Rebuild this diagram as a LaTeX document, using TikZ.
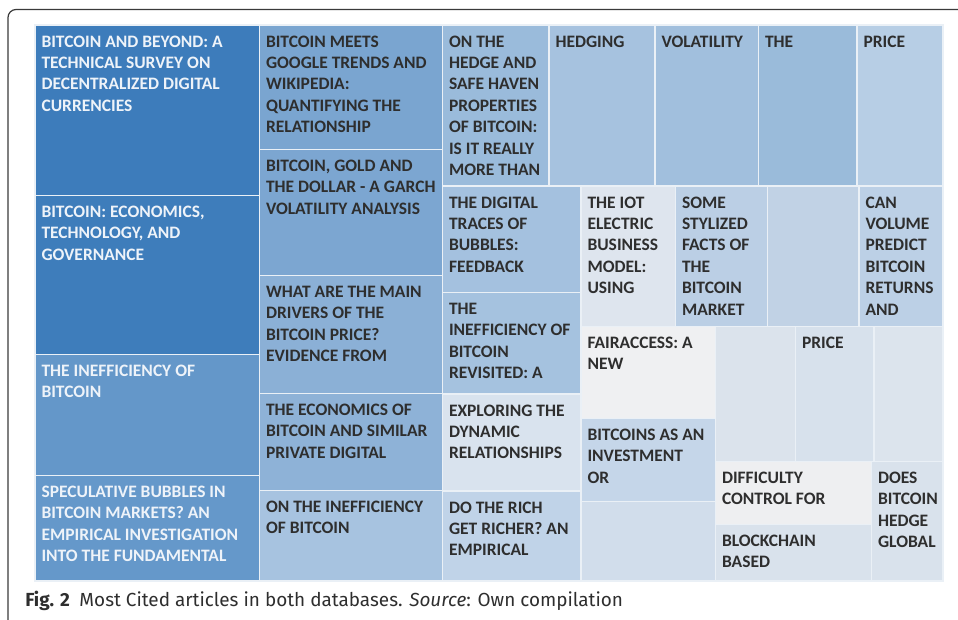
\documentclass[tikz,border=0pt]{standalone}
\usepackage{fontspec}
\usetikzlibrary{fit}
\newfontfamily\cellfont{Carlito}
\newfontfamily\capfont{Fira Sans}
\definecolor{frameline}{HTML}{3A3A3A}
\definecolor{cellline}{HTML}{EAF0F6}
\definecolor{darktxt}{HTML}{2E2E2E}
\definecolor{lighttxt}{HTML}{EEF3F9}
\definecolor{ca1}{HTML}{3D7CBB}
\definecolor{ca2}{HTML}{3E7DBB}
\definecolor{ca3}{HTML}{6497C9}
\definecolor{ca4}{HTML}{6598CA}
\definecolor{cb1}{HTML}{7AA5D0}
\definecolor{cb2}{HTML}{7CA6D1}
\definecolor{cb3}{HTML}{8BB0D6}
\definecolor{cb4}{HTML}{8EB2D7}
\definecolor{cb5}{HTML}{A7C3E0}
\definecolor{cc1}{HTML}{9ABBDB}
\definecolor{cc2}{HTML}{A6C2DF}
\definecolor{cc3}{HTML}{A1BFDD}
\definecolor{cc4}{HTML}{9ABBDA}
\definecolor{cc5}{HTML}{B7CEE5}
\definecolor{cd1}{HTML}{A4C1DF}
\definecolor{cd2}{HTML}{A5C2DF}
\definecolor{cd3}{HTML}{D9E3EE}
\definecolor{cd4}{HTML}{C0D3E8}
\definecolor{ce1}{HTML}{DEE5EE}
\definecolor{ce2}{HTML}{BBCFE5}
\definecolor{ce3}{HTML}{C1D2E5}
\definecolor{ce4}{HTML}{BCD0E6}
\definecolor{cf1}{HTML}{EFF0F2}
\definecolor{cf2}{HTML}{C5D6E9}
\definecolor{cf3}{HTML}{D1DDEB}
\definecolor{cg1}{HTML}{DBE3EC}
\definecolor{cg2}{HTML}{D7E1EC}
\definecolor{cg3}{HTML}{DCE4ED}
\definecolor{ch1}{HTML}{EEEFF1}
\definecolor{ch2}{HTML}{D9E2EC}
\definecolor{ch3}{HTML}{D9E2EC}
\tikzset{
  cellbox/.style={inner sep=0pt, outer sep=0pt, draw=cellline, line width=1pt},
  celltxt/.style={inner sep=0pt, outer sep=0pt, anchor=north west, align=left,
    font=\cellfont\bfseries\fontsize{13.1pt}{16.1pt}\selectfont},
  frame/.style={draw=frameline, line width=0.9pt, rounded corners=6pt},
  captxt/.style={inner sep=0pt, anchor=base west, text=darktxt,
    font=\capfont\fontsize{14.2pt}{17pt}\selectfont}
}
\newcommand\cellat[8]{%
  \node[cellbox, fill=#6, fit={(#2,#3) (#4,#5)}] (#1) {};
  \node[celltxt, text=#7] (#1t) at ([xshift=4.9pt, yshift=-5.25pt]#1.north west) {\rule{0pt}{11.25pt}#8};
}
\begin{document}
\begin{tikzpicture}[x=0.75pt, y=-0.75pt]
\useasboundingbox (0,0) rectangle (958,619);
\clip (0,0) rectangle (958,619);
\draw[frame] (8,9.5) rectangle (990,660);
% column 1
\cellat{a1}{35}{25}{259.5}{195.5}{ca1}{lighttxt}{BITCOIN AND BEYOND: A\\TECHNICAL SURVEY ON\\DECENTRALIZED DIGITAL\\CURRENCIES}
\cellat{a2}{35}{195.5}{259.5}{354.5}{ca2}{lighttxt}{BITCOIN: ECONOMICS,\\TECHNOLOGY, AND\\GOVERNANCE}
\cellat{a3}{35}{354.5}{259.5}{475.5}{ca3}{lighttxt}{THE INEFFICIENCY OF\\BITCOIN}
\cellat{a4}{35}{475.5}{259.5}{581}{ca4}{lighttxt}{SPECULATIVE BUBBLES IN\\BITCOIN MARKETS? AN\\EMPIRICAL INVESTIGATION\\INTO THE FUNDAMENTAL}
% column 2
\cellat{b1}{259.5}{25}{442.5}{149.5}{cb1}{darktxt}{BITCOIN MEETS\\GOOGLE TRENDS AND\\WIKIPEDIA:\\QUANTIFYING THE\\RELATIONSHIP}
\cellat{b2}{259.5}{149.5}{442.5}{275.5}{cb2}{darktxt}{BITCOIN, GOLD AND\\THE DOLLAR - A GARCH\\VOLATILITY ANALYSIS}
\cellat{b3}{259.5}{275.5}{442.5}{393.5}{cb3}{darktxt}{WHAT ARE THE MAIN\\DRIVERS OF THE\\BITCOIN PRICE?\\EVIDENCE FROM}
\cellat{b4}{259.5}{393.5}{442.5}{490.5}{cb4}{darktxt}{THE ECONOMICS OF\\BITCOIN AND SIMILAR\\PRIVATE DIGITAL}
\cellat{b5}{259.5}{490.5}{442.5}{581}{cb5}{darktxt}{ON THE INEFFICIENCY\\OF BITCOIN}
% top row
\cellat{c1}{442.5}{25}{549}{186}{cc1}{darktxt}{ON THE\\HEDGE AND\\SAFE HAVEN\\PROPERTIES\\OF BITCOIN:\\IS IT REALLY\\MORE THAN}
\cellat{c2}{549}{25}{655}{186}{cc2}{darktxt}{HEDGING}
\cellat{c3}{655}{25}{758.5}{186}{cc3}{darktxt}{VOLATILITY}
\cellat{c4}{758.5}{25}{857}{186}{cc4}{darktxt}{THE}
\cellat{c5}{857}{25}{943}{186}{cc5}{darktxt}{PRICE}
% column 3
\cellat{d1}{442.5}{186}{581}{292.5}{cd1}{darktxt}{THE DIGITAL\\TRACES OF\\BUBBLES:\\FEEDBACK}
\cellat{d2}{442.5}{292.5}{581}{394}{cd2}{darktxt}{THE\\INEFFICIENCY OF\\BITCOIN\\REVISITED: A}
\cellat{d3}{442.5}{394}{581}{491}{cd3}{darktxt}{EXPLORING THE\\DYNAMIC\\RELATIONSHIPS}
\cellat{d4}{442.5}{491}{581}{581}{cd4}{darktxt}{DO THE RICH\\GET RICHER? AN\\EMPIRICAL}
% second row right
\cellat{e1}{581}{186}{675.5}{326.5}{ce1}{darktxt}{THE IOT\\ELECTRIC\\BUSINESS\\MODEL:\\USING}
\cellat{e2}{675.5}{186}{767.5}{326.5}{ce2}{darktxt}{SOME\\STYLIZED\\FACTS OF\\THE\\BITCOIN\\MARKET}
\cellat{e3}{767.5}{186}{859}{326.5}{ce3}{darktxt}{}
\cellat{e4}{859}{186}{943}{326.5}{ce4}{darktxt}{CAN\\VOLUME\\PREDICT\\BITCOIN\\RETURNS\\AND}
% column 4
\cellat{f1}{581}{326.5}{715.5}{418.5}{cf1}{darktxt}{FAIRACCESS: A\\NEW}
\cellat{f2}{581}{418.5}{715.5}{501.5}{cf2}{darktxt}{BITCOINS AS AN\\INVESTMENT\\OR}
\cellat{f3}{581}{501.5}{715.5}{581}{cf3}{darktxt}{}
% right block
\cellat{g1}{715.5}{326.5}{795.5}{461.5}{cg1}{darktxt}{}
\cellat{g2}{795.5}{326.5}{874}{461.5}{cg2}{darktxt}{PRICE}
\cellat{g3}{874}{326.5}{943}{461.5}{cg3}{darktxt}{}
\cellat{h1}{715.5}{461.5}{871.5}{524.5}{ch1}{darktxt}{DIFFICULTY\\CONTROL FOR}
\cellat{h2}{715.5}{524.5}{871.5}{581}{ch2}{darktxt}{BLOCKCHAIN\\BASED}
\cellat{h3}{871.5}{461.5}{943}{581}{ch3}{darktxt}{DOES\\BITCOIN\\HEDGE\\GLOBAL}
% caption
\node[captxt] (cap) at (25,606) {\textbf{Fig. 2}\hspace{0.5em}Most Cited articles in both databases. \textit{Source}: Own compilation};
\end{tikzpicture}
\end{document}
